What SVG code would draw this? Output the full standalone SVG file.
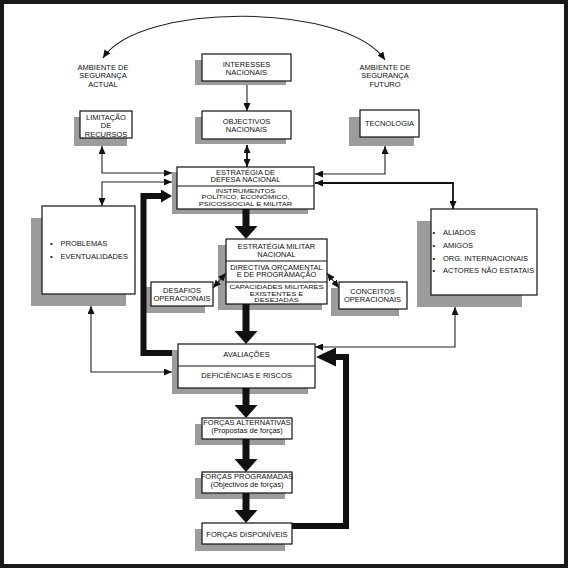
<svg xmlns="http://www.w3.org/2000/svg" width="568" height="568" viewBox="0 0 568 568">
<style>
.t{font-family:"Liberation Sans",Arial,sans-serif;font-size:7.5px;fill:#111;text-anchor:middle}
.s{text-anchor:start}
.box{fill:#fff;stroke:#111;stroke-width:1.2}
.sh{fill:#9c9c9c}
.thin{fill:none;stroke:#222;stroke-width:1.1}
.med{fill:none;stroke:#111;stroke-width:1.8}
.thick{fill:none;stroke:#111;stroke-width:7}
.fb{fill:none;stroke:#111;stroke-width:6;stroke-linejoin:miter}
</style>
<defs>
<marker id="ah" viewBox="0 0 8 7" refX="8" refY="3.5" markerWidth="8" markerHeight="7" markerUnits="userSpaceOnUse" orient="auto-start-reverse"><path d="M0,0 L8,3.5 L0,7 z" fill="#111"/></marker>
<marker id="big" viewBox="0 0 13 23" refX="7" refY="11.5" markerWidth="13" markerHeight="23" markerUnits="userSpaceOnUse" orient="auto"><path d="M0,0 L13,11.5 L0,23 z" fill="#111"/></marker>
<marker id="fbl" viewBox="0 0 11 13" refX="5" refY="6.5" markerWidth="11" markerHeight="13" markerUnits="userSpaceOnUse" orient="auto"><path d="M0,0 L11,6.5 L0,13 z" fill="#111"/></marker>
<marker id="fbr" viewBox="0 0 20 19" refX="12" refY="9.5" markerWidth="20" markerHeight="19" markerUnits="userSpaceOnUse" orient="auto"><path d="M0,0 L20,9.5 L0,19 z" fill="#111"/></marker>
</defs>
<rect x="0" y="0" width="568" height="568" fill="#fff"/>
<rect x="2" y="2" width="564" height="564" fill="none" stroke="#1a1a1a" stroke-width="4"/>

<g id="labels">
<text class="t" x="103" y="69.5">AMBIENTE DE</text>
<text class="t" x="103" y="78">SEGURANÇA</text>
<text class="t" x="103" y="86.5">ACTUAL</text>
<text class="t" x="385" y="69.5">AMBIENTE DE</text>
<text class="t" x="385" y="78">SEGURANÇA</text>
<text class="t" x="385" y="86.5">FUTURO</text>
</g>

<g id="interesses">
<rect class="sh" x="195" y="60" width="91" height="25"/>
<rect class="box" x="202" y="54" width="89" height="27"/>
<text class="t" x="246.5" y="66.5">INTERESSES</text>
<text class="t" x="246.5" y="74.5">NACIONAIS</text>
</g>

<g id="objectivos">
<rect class="sh" x="195" y="117" width="91" height="27"/>
<rect class="box" x="202" y="111" width="89" height="28"/>
<text class="t" x="246.5" y="124">OBJECTIVOS</text>
<text class="t" x="246.5" y="132">NACIONAIS</text>
</g>

<g id="limitacao">
<rect class="sh" x="74" y="117" width="53" height="29"/>
<rect class="box" x="80" y="111" width="52" height="27"/>
<text class="t" x="106" y="120">LIMITAÇÃO</text>
<text class="t" x="106" y="128.3">DE</text>
<text class="t" x="106" y="136.5">RECURSOS</text>
</g>

<g id="tecnologia">
<rect class="sh" x="349" y="117" width="65" height="29"/>
<rect class="box" x="360" y="110" width="59" height="27"/>
<text class="t" x="389.5" y="126">TECNOLOGIA</text>
</g>

<g id="estrategia-defesa">
<rect class="sh" x="172" y="172" width="136" height="42"/>
<rect class="box" x="177" y="167" width="137" height="42"/>
<line x1="177" y1="186" x2="314" y2="186" stroke="#111" stroke-width="1.2"/>
<text class="t" x="245.5" y="0" transform="translate(0,174.5) scale(1,0.85)">ESTRATÉGIA DE</text>
<text class="t" x="245.5" y="0" transform="translate(0,181.7) scale(1,0.85)">DEFESA NACIONAL</text>
<text class="t" x="245.5" y="0" transform="translate(0,192.7) scale(1,0.75)">INSTRUMENTOS</text>
<text class="t" x="245.5" y="0" transform="translate(0,199.2) scale(1,0.75)">POLÍTICO, ECONÓMICO,</text>
<text class="t" x="245.5" y="0" transform="translate(0,205.7) scale(1,0.75)">PSICOSSOCIAL E MILITAR</text>
</g>

<g id="problemas">
<rect class="sh" x="31" y="218" width="95" height="88"/>
<rect class="box" x="42" y="206" width="93" height="88"/>
<text class="t s" x="50" y="246">•</text>
<text class="t s" x="60.5" y="246">PROBLEMAS</text>
<text class="t s" x="50" y="259">•</text>
<text class="t s" x="60.5" y="259">EVENTUALIDADES</text>
</g>

<g id="aliados">
<rect class="sh" x="417" y="221" width="105" height="86"/>
<rect class="box" x="431" y="209" width="106" height="86"/>
<text class="t s" x="432.5" y="235.3">•</text>
<text class="t s" x="443" y="235.3">ALIADOS</text>
<text class="t s" x="432.5" y="247.5">•</text>
<text class="t s" x="443" y="247.5">AMIGOS</text>
<text class="t s" x="432.5" y="261">•</text>
<text class="t s" x="443" y="261">ORG. INTERNACIONAIS</text>
<text class="t s" x="432.5" y="273">•</text>
<text class="t s" x="443" y="273" font-size="7.35">ACTORES NÃO ESTATAIS</text>
</g>

<g id="estrategia-militar">
<rect class="sh" x="218" y="245" width="104" height="65"/>
<rect class="box" x="226" y="239" width="101" height="65"/>
<line x1="226" y1="261" x2="327" y2="261" stroke="#111" stroke-width="1.2"/>
<line x1="226" y1="282" x2="327" y2="282" stroke="#111" stroke-width="1.2"/>
<text class="t" x="276.5" y="0" transform="translate(0,249) scale(1,0.85)">ESTRATÉGIA MILITAR</text>
<text class="t" x="276.5" y="0" transform="translate(0,256.7) scale(1,0.85)">NACIONAL</text>
<text class="t" x="276.5" y="0" transform="translate(0,270) scale(1,0.85)">DIRECTIVA ORÇAMENTAL</text>
<text class="t" x="276.5" y="0" transform="translate(0,277.3) scale(1,0.85)">E DE PROGRAMAÇÃO</text>
<text class="t" x="276.5" y="0" transform="translate(0,289) scale(1,0.75)">CAPACIDADES MILITARES</text>
<text class="t" x="276.5" y="0" transform="translate(0,295.5) scale(1,0.75)">EXISTENTES E</text>
<text class="t" x="276.5" y="0" transform="translate(0,302) scale(1,0.75)">DESEJADAS</text>
</g>

<g id="desafios">
<rect class="sh" x="146" y="287" width="59" height="26"/>
<rect class="box" x="151" y="282" width="62" height="24"/>
<text class="t" x="182" y="293">DESAFIOS</text>
<text class="t" x="182" y="301">OPERACIONAIS</text>
</g>

<g id="conceitos">
<rect class="sh" x="331" y="288" width="68" height="28"/>
<rect class="box" x="339" y="282" width="68" height="27"/>
<text class="t" x="372.5" y="294">CONCEITOS</text>
<text class="t" x="372.5" y="302">OPERACIONAIS</text>
</g>

<g id="avaliacoes">
<rect class="sh" x="172" y="350" width="136" height="44"/>
<rect class="box" x="178" y="344" width="137" height="44"/>
<line x1="178" y1="366" x2="315" y2="366" stroke="#111" stroke-width="1.2"/>
<text class="t" x="246.5" y="357">AVALIAÇÕES</text>
<text class="t" x="246.5" y="378">DEFICIÊNCIAS E RISCOS</text>
</g>

<g id="forcas-alternativas">
<rect class="sh" x="195" y="424" width="90" height="21"/>
<rect class="box" x="202" y="418" width="90" height="21"/>
<text class="t" x="247" y="425" font-size="7.3">FORÇAS ALTERNATIVAS</text>
<text class="t" x="247" y="433">(Propostas de forças)</text>
</g>

<g id="forcas-programadas">
<rect class="sh" x="195" y="478" width="90" height="21"/>
<rect class="box" x="202" y="472" width="90" height="21"/>
<text class="t" x="247" y="479" font-size="7.3">FORÇAS PROGRAMADAS</text>
<text class="t" x="247" y="487">(Objectivos de forças)</text>
</g>

<g id="forcas-disponiveis">
<rect class="sh" x="195" y="529" width="90" height="22"/>
<rect class="box" x="202" y="523" width="90" height="21"/>
<text class="t" x="247" y="537">FORÇAS DISPONÍVEIS</text>
</g>

<g id="connectors">
<path class="thin" d="M103 58 C140 2 345 2 385 60" marker-start="url(#ah)" marker-end="url(#ah)"/>
<path class="thin" d="M247 85 V111" marker-end="url(#ah)"/>
<path class="med" d="M247 145 V167" marker-start="url(#ah)" marker-end="url(#ah)"/>
<path class="thin" d="M172 173 H102 V146" marker-start="url(#ah)" marker-end="url(#ah)"/>
<path class="thin" d="M172 182 H102 V206" marker-start="url(#ah)" marker-end="url(#ah)"/>
<path class="thin" d="M315 174 H385 V146" marker-start="url(#ah)" marker-end="url(#ah)"/>
<path class="med" d="M315 183 H453 V209" marker-start="url(#ah)" marker-end="url(#ah)"/>
<path class="thin" d="M91 306 V372 H172" marker-start="url(#ah)" marker-end="url(#ah)"/>
<path class="thin" d="M455 307 V347 H315" marker-start="url(#ah)" marker-end="url(#ah)"/>
<path class="thin" d="M213 288 L226 273" marker-start="url(#ah)" marker-end="url(#ah)"/>
<path class="thin" d="M327 273 L339 288" marker-start="url(#ah)" marker-end="url(#ah)"/>
<path class="thick" d="M246 209 V233" marker-end="url(#big)"/>
<path class="thick" d="M246 304 V338" marker-end="url(#big)"/>
<path class="thick" d="M246 388 V412" marker-end="url(#big)"/>
<path class="thick" d="M246 439 V466" marker-end="url(#big)"/>
<path class="thick" d="M246 493 V517" marker-end="url(#big)"/>
<path class="fb" d="M172 353 H143.5 V196 H166" marker-end="url(#fbl)"/>
<path class="fb" d="M292 526 H346 V357 H324" marker-end="url(#fbr)"/>
</g>
</svg>
